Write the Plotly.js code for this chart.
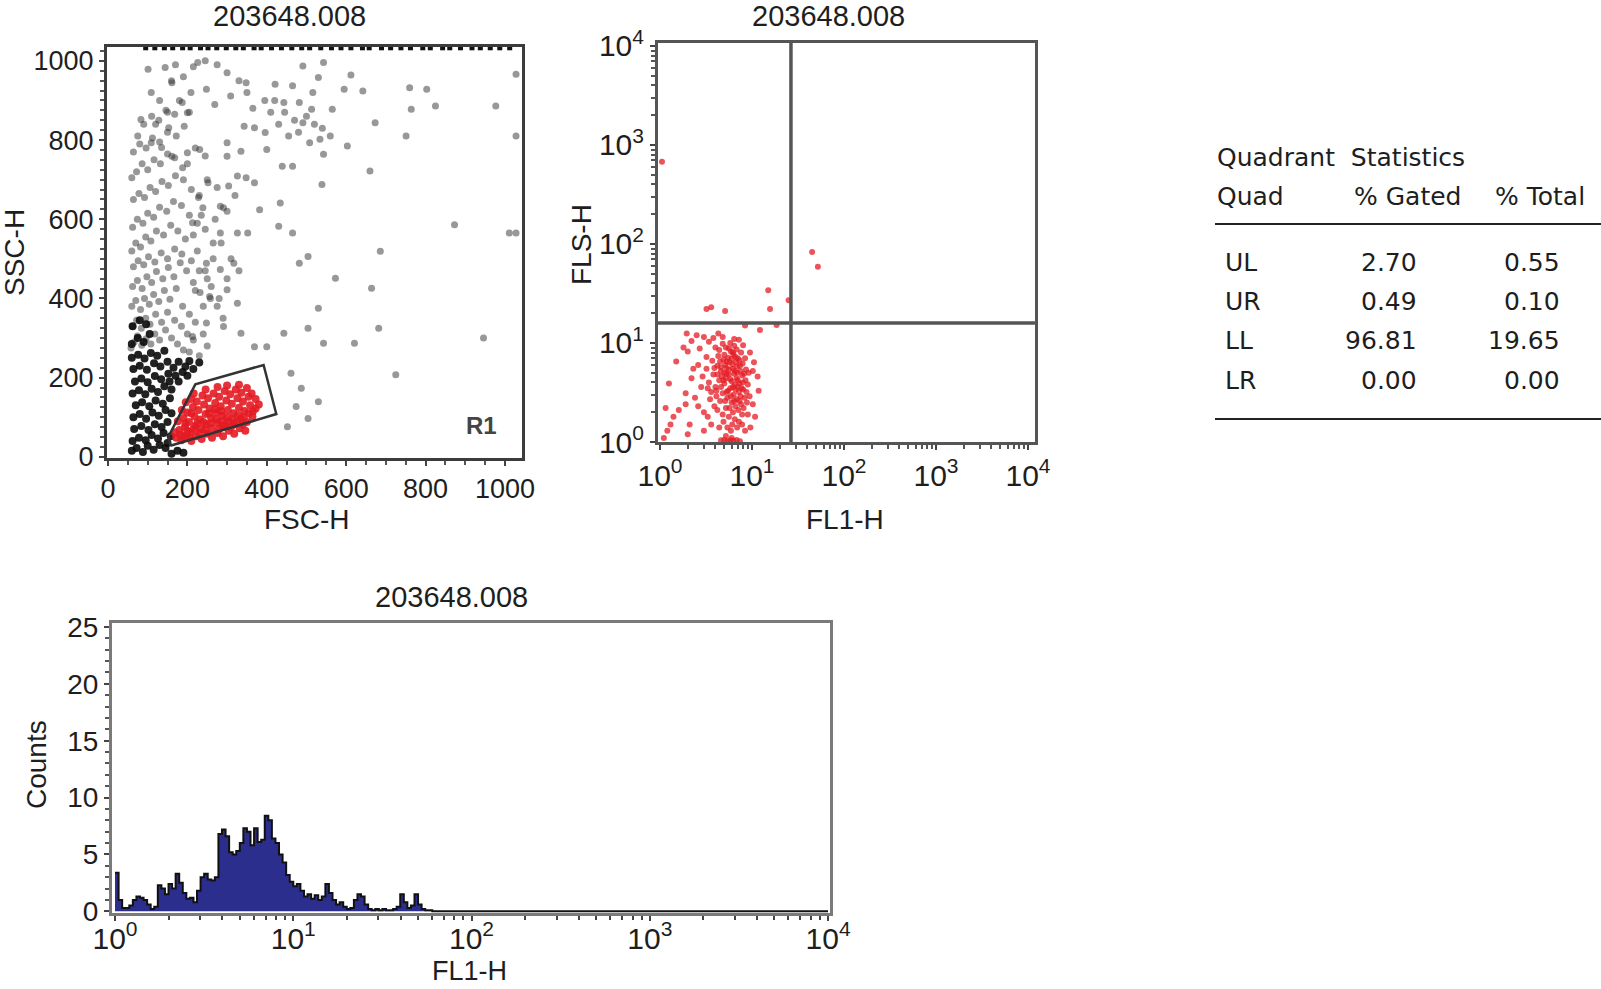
<!DOCTYPE html>
<html>
<head>
<meta charset="utf-8">
<script src="https://cdn.plot.ly/plotly-3.0.1.min.js"></script>
<style>
  html, body { margin: 0; padding: 0; background: #fff; }
  #plot { width: 1601px; height: 989px; }
</style>
</head>
<body>
<div id="plot"></div>
<script>
(function (document, window) {

    const sampleName = '203648.008';

    // FSC-H / SSC-H dot plot, events
    // dark core next to the FSC threshold
    const coreEvents = [
        [60,15],[72,22],[88,12],[100,28],[115,18],[130,30],[145,22],[62,40],[78,48],[95,42],
        [110,55],[126,46],[140,60],[158,52],[66,70],[84,78],[102,68],[118,82],[135,75],[150,88],
        [64,100],[80,108],[96,96],[112,112],[128,104],[145,118],[160,110],[70,130],[86,138],[104,128],
        [120,142],[138,134],[156,148],[62,160],[78,168],[94,158],[110,172],[126,164],[142,178],[160,170],
        [178,190],[68,190],[84,198],[100,188],[118,204],[134,196],[152,210],[170,205],[188,214],[64,222],
        [80,230],[98,220],[116,236],[132,228],[150,240],[60,250],[76,258],[92,248],[108,262],[124,255],
        [142,268],[160,8],[175,15],[190,10],[150,35],[165,225],[195,228],[205,242],[178,240],[200,205],
        [215,222],[230,238],[155,190],[60,285],[75,300],[90,290],[105,310],[62,330],[80,345],[96,335]
    ];

    // the rest of the events outside R1
    const otherEvents = [
        [58,275],[66,290],[74,305],[85,282],[96,298],[108,285],[118,310],[130,295],[145,320],[160,300],
        [175,285],[190,270],[205,265],[62,330],[72,345],[84,325],[95,350],[106,335],[120,360],[135,340],
        [150,365],[168,345],[185,330],[200,310],[215,295],[230,255],[60,380],[70,395],[82,372],[92,400],
        [104,385],[115,410],[128,392],[142,420],[156,398],[172,425],[188,380],[205,360],[220,340],[240,310],
        [250,280],[62,430],[74,445],[86,425],[98,455],[110,440],[122,468],[138,450],[152,478],[166,455],
        [182,490],[198,470],[215,440],[232,415],[258,400],[275,380],[290,350],[64,480],[76,495],[90,485],
        [102,505],[118,492],[134,515],[150,500],[168,525],[186,512],[210,495],[230,470],[250,450],
        [60,520],[70,540],[82,530],[95,555],[108,545],[122,570],[140,560],[158,585],[176,570],[195,550],
        [62,580],[74,600],[88,590],[100,615],[115,605],[130,630],[148,620],[165,645],[185,635],[205,610],
        [225,590],[245,575],[64,650],[78,665],[92,655],[106,680],[120,670],[136,695],[152,685],[170,710],
        [190,700],[210,675],[228,655],[60,705],[72,720],[86,740],[100,725],[116,750],[132,740],[150,765],
        [168,755],[188,730],[64,770],[80,790],[96,780],[112,805],[130,795],[150,820],[172,810],[90,840],
        [110,860],[128,850],[146,875],[168,865],
        [220,420],[240,380],[260,430],[280,400],[300,450],[225,520],[245,470],[265,500],[285,540],[310,500],
        [330,470],[215,560],[235,610],[270,600],[300,620],[320,660],[230,660],[250,700],[275,680],[200,740],
        [220,780],[245,760],[180,900],[205,870],[160,950],[130,900],[150,870],[120,840],
        [420,900],[445,870],[470,850],[455,810],[500,860],[520,840],[480,820],[540,830],[430,840],[410,870],
        [395,900],[365,880],[350,920],[330,950],[300,970],[275,990],[245,1000],[215,985],[190,960],[170,990],
        [977,886],[825,886],[803,928],[760,932],[764,878],[751,810],[673,844],[660,722],[612,964],[595,928],
        [642,924],[603,785],[565,878],[539,688],[873,586],[1011,565],[686,519],[573,451],[664,426],[530,375],
        [682,325],[504,325],[443,312],[543,287],[621,287],[946,300],[725,207],[461,211],[530,139],[474,127],
        [504,97],[452,76],[487,173],[400,278],[369,278],[482,489],[504,506],[430,582],[465,565],[434,641],
        [382,624],[352,565],[283,565],[348,705],[326,709],[369,692],[439,734],[465,734],[491,844],[508,793],
        [534,802],[560,810],[543,764],[513,878],[482,895],[516,920],[530,958],[491,987],[543,996],[465,937],
        [421,941],[443,895],[396,819],[369,831],[400,776],[335,772],[300,759],[343,835],[348,945],[309,911],
        [269,890],[248,928],[209,920],[187,895],[200,869],[161,945],[144,983],[109,920],[101,979],[226,996],
        [83,852],[75,810],[153,831],[192,835],[109,793],[135,781],[161,759],[200,768],[231,776],[300,793],
        [304,684],[252,692],[239,629],[213,591],[283,633],[291,629],[326,565],[265,540],[248,489],[283,473],
        [317,489],[300,422],[326,388],[291,329],[335,312],[248,338],[213,304],[256,405],
        [1028,966],[1028,810],[1028,565]
    ];

    // events piled at the top of the SSC scale
    const topEvents = [95,118,142,163,188,207,233,252,274,298,322,341,368,386,412,437,463,488,508,
        536,563,587,612,641,658,689,712,738,762,793,812,843,861,888,917,938,963,987,1012];
    const topSSC = 1033;

    // events inside the R1 gate
    const gatedEvents = [
        [172,48],[185,42],[198,55],[210,40],[222,52],[236,45],[250,58],[262,48],[276,60],[290,52],
        [304,66],[318,58],[332,72],[346,66],[180,68],[194,75],[208,62],[220,78],[234,70],[248,82],
        [262,72],[276,86],[290,76],[304,90],[318,82],[334,96],[350,88],[364,102],[176,90],[190,98],
        [204,88],[218,102],[232,94],[246,108],[260,98],[274,112],[288,104],[302,118],[316,110],[330,124],
        [344,116],[358,130],[372,122],[186,118],[200,112],[214,126],[228,118],[242,132],[256,122],[270,136],
        [284,128],[298,142],[312,134],[326,148],[340,140],[354,152],[196,138],[210,146],[224,140],[238,155],
        [252,148],[266,160],[280,152],[294,166],[308,158],[322,170],[336,162],[350,174],[216,160],[246,170],
        [276,176],[300,180],[330,182],[362,160],[372,146],[380,132],[200,65],[215,70],[230,60],[245,68],
        [258,85],[272,95],[286,90],[300,100],[314,95],[328,105],[342,100],[240,88],[255,110],[270,120],
        [285,115],[225,85],[210,110],[195,84],[182,56],[168,62],[190,50],[205,48],[280,70],[295,80],
        [310,75],[325,88],[340,82],[355,110],[365,115]
    ];

    const gateR1 = [[157,28],[153,52],[220,183],[392,232],[424,108],[157,28]];
    const gateLabel = 'R1';

    // FL1-H / FLS-H of the gated events
    const flEvents = [
        [4.6,5.2],[5.1,6.0],[5.6,4.8],[6.2,5.5],[6.8,4.4],[7.4,5.9],[5.0,3.9],[5.8,3.5],[6.5,3.8],[7.2,3.2],
        [4.8,3.1],[5.4,2.8],[6.0,2.5],[6.8,2.7],[7.6,2.4],[4.4,4.2],[5.2,4.4],[6.0,4.1],[6.7,6.4],[7.8,4.7],
        [5.5,7.1],[6.3,7.6],[4.9,6.8],[5.9,8.2],[7.0,7.0],[4.2,5.9],[4.0,3.6],[4.5,2.6],[5.2,2.2],[6.2,2.0],
        [7.1,2.1],[8.0,3.4],[8.3,2.8],[7.9,6.2],[8.5,4.2],[3.8,4.8],[3.6,3.2],[4.3,7.4],[5.3,5.6],[6.4,4.9],
        [5.7,6.4],[6.9,5.0],[4.7,4.6],[5.5,3.3],[6.3,3.0],[7.3,3.9],[6.0,6.9],[5.0,5.0],[6.6,3.4],[7.5,2.9],
        [4.1,2.9],[3.9,2.3],[4.8,1.9],[5.6,1.8],[6.5,1.7],[7.8,1.9],[8.8,2.5],[9.0,3.8],[8.6,5.4],[3.4,4.0],
        [3.2,5.5],[4.4,8.5],[5.2,9.0],[6.8,8.6],[7.6,8.0],[5.8,10.0],[4.9,1.6],[6.1,1.5],[5.4,1.4],[7.2,1.6],
        [4.2,4.8],[4.6,3.6],[5.3,3.2],[5.9,2.9],[6.6,2.3],[7.0,4.2],[7.7,3.5],[5.6,5.4],[6.1,6.1],[6.9,5.8],
        [5.0,7.6],[5.6,8.8],[6.4,9.4],[4.5,6.5],[3.9,5.6],[3.5,2.7],[4.2,2.1],[5.1,2.6],[5.7,2.2],[6.4,2.6],
        [7.3,2.6],[8.1,2.2],[8.7,3.2],[8.2,4.9],[7.5,5.2],[6.5,5.2],[5.8,4.3],[4.9,4.2],[4.1,3.3],[5.3,4.9],
        [6.2,3.6],[7.0,3.6],[7.9,4.0],[6.6,7.2],[7.3,6.7],[5.3,6.5],[4.6,5.7],[3.7,6.6],[4.0,9.0],[4.8,9.8],
        [6.2,8.0],[8.4,7.0],[9.2,5.0],[9.4,2.9],[3.3,3.5],[2.9,4.6],[2.6,2.3],[3.3,1.8],[4.4,1.4],[5.9,1.3],
        [6.9,1.4],[7.8,1.5],[9.0,1.9],[1.5,6.5],[1.8,9.0],[2.2,10.5],[1.4,1.8],[1.9,2.4],[2.3,5.5],[10.2,5.2],
        [5.0,1.05],[5.4,1.02],[5.8,1.04],[6.3,1.03],[6.8,1.05],[4.6,1.04],[7.4,1.02],[6.0,1.1],[5.2,1.15],
        [1.1,1.1],[1.3,1.5],[1.15,2.2],[1.25,3.9],[1.6,2.1],[1.9,3.1],[2.1,1.5],[2.2,4.4],[2.4,2.8],[2.6,6.0],
        [2.8,3.6],[3.0,1.3],[3.0,2.0],[2.7,8.8],[3.2,7.2],[3.4,10.3],[3.0,11.5],[2.5,12.0],[3.8,11.2],[4.3,12.5],
        [4.8,11.5],[6.4,11.0],[7.2,10.8],[8.0,9.5],[9.5,8.0],[10.5,6.4],[11.5,4.6],[10.2,2.4],[11.8,3.3],[10.8,1.8],
        [9.6,1.4],[8.4,1.3],[3.6,1.5],[2.0,1.2],[1.2,1.3],[8.4,15.0],[12.2,13.5],[1.95,12.5],[2.0,8.2],[18.5,15.2],
        [3.2,22],[3.6,23],[5.1,21],[15,34],[15.7,22],[25,27],[45,83],[52,59],[1.05,676]
    ];

    const quadFL1 = 26.5;
    const quadFLS = 15.9;

    // FL1-H histogram, counts per log bin starting at 10^0
    const histStepLog = 0.02;
    const histCounts = [
        3.4,1.0,0.3,0.3,0.5,1.0,1.3,1.2,1.0,0.6,
        0.2,0.4,2.3,2.0,1.5,2.4,2.0,3.3,2.5,1.6,
        1.1,1.2,0.8,1.8,3.0,3.3,2.8,2.7,3.0,6.8,
        7.2,6.6,5.2,5.0,5.3,6.0,7.3,7.0,5.8,7.3,
        6.1,6.3,8.4,8.0,6.4,6.0,5.0,4.3,3.2,2.6,
        2.2,2.4,1.8,1.3,1.5,1.1,1.4,1.0,1.3,2.4,
        1.6,1.0,0.6,0.8,0.4,0.2,0.3,1.0,1.5,1.3,
        0.6,0.2,0.1,0.2,0.1,0.2,0.1,0.1,0.2,0.4,
        1.5,0.8,0.3,0.5,1.5,0.6,0.2,0.1,0.1,0.0
    ];

    // quadrant statistics
    const quadNames = ['UL', 'UR', 'LL', 'LR'];
    const pctGated = ['2.70', '0.49', '96.81', '0.00'];
    const pctTotal = ['0.55', '0.10', '19.65', '0.00'];

    const logTicks = [1, 10, 100, 1000, 10000];
    const logTickText = ['10<sup>0</sup>', '10<sup>1</sup>', '10<sup>2</sup>', '10<sup>3</sup>', '10<sup>4</sup>'];

    const W = 1601, H = 989;
    function px(x) { return x / W; }
    function py(y) { return 1 - y / H; }

    const red = '#e41b23';
    const sans = 'Liberation Sans';

    document.addEventListener("DOMContentLoaded", function () {

        var histX = [], histY = [];
        histCounts.forEach(function (c, i) {
            histX.push(Math.pow(10, i * histStepLog));
            histY.push(c);
        });
        histX.push(Math.pow(10, histCounts.length * histStepLog));
        histY.push(0);
        histX.push(10000);
        histY.push(0);

        var traces = [
            {
                x: otherEvents.map(p => p[0]), y: otherEvents.map(p => p[1]),
                type: 'scatter', mode: 'markers', xaxis: 'x', yaxis: 'y',
                marker: { size: 7, color: 'rgba(50,50,50,0.5)' }, hoverinfo: 'skip'
            },
            {
                x: coreEvents.map(p => p[0]), y: coreEvents.map(p => p[1]),
                type: 'scatter', mode: 'markers', xaxis: 'x', yaxis: 'y',
                marker: { size: 8, color: 'rgba(10,10,10,0.9)' }, hoverinfo: 'skip'
            },
            {
                x: topEvents, y: topEvents.map(() => topSSC),
                type: 'scatter', mode: 'markers', xaxis: 'x', yaxis: 'y',
                marker: { size: 5, symbol: 'square', color: '#111' }, hoverinfo: 'skip'
            },
            {
                x: gatedEvents.map(p => p[0]), y: gatedEvents.map(p => p[1]),
                type: 'scatter', mode: 'markers', xaxis: 'x', yaxis: 'y',
                marker: { size: 8, color: red, opacity: 0.9 }, hoverinfo: 'skip'
            },
            {
                x: gateR1.map(p => p[0]), y: gateR1.map(p => p[1]),
                type: 'scatter', mode: 'lines', xaxis: 'x', yaxis: 'y',
                line: { color: '#333', width: 2.5 }, hoverinfo: 'skip'
            },
            {
                x: flEvents.map(p => p[0]), y: flEvents.map(p => p[1]),
                type: 'scatter', mode: 'markers', xaxis: 'x2', yaxis: 'y2',
                marker: { size: 6, color: red, opacity: 0.75 }, hoverinfo: 'skip'
            },
            {
                x: [quadFL1, quadFL1], y: [1, 10700],
                type: 'scatter', mode: 'lines', xaxis: 'x2', yaxis: 'y2',
                line: { color: '#555', width: 3.5 }, hoverinfo: 'skip'
            },
            {
                x: [0.95, 11900], y: [quadFLS, quadFLS],
                type: 'scatter', mode: 'lines', xaxis: 'x2', yaxis: 'y2',
                line: { color: '#555', width: 3.5 }, hoverinfo: 'skip'
            },
            {
                x: histX, y: histY,
                type: 'scatter', mode: 'lines', xaxis: 'x3', yaxis: 'y3',
                line: { color: '#111', width: 2, shape: 'hv' },
                fill: 'tozeroy', fillcolor: '#2c2e8d', hoverinfo: 'skip'
            }
        ];

        function frame(extra) {
            return Object.assign({
                showline: true, mirror: true, linewidth: 3, linecolor: '#3c3c3c',
                showgrid: false, zeroline: false, ticks: 'outside', ticklen: 5,
                tickwidth: 2, tickcolor: '#444', fixedrange: true
            }, extra);
        }

        var layout = {
            width: W, height: H,
            margin: { l: 0, r: 0, t: 0, b: 0 },
            paper_bgcolor: '#fff', plot_bgcolor: '#fff',
            showlegend: false,
            font: { family: sans, color: '#1e1e1e' },
            xaxis: frame({
                domain: [px(107), px(522)], range: [-2.5, 1043], anchor: 'y',
                tickvals: [0, 200, 400, 600, 800, 1000],
                tickfont: { family: sans, size: 27 },
                minor: { dtick: 50, ticks: 'outside', ticklen: 4, tickwidth: 2, tickcolor: '#555' }
            }),
            yaxis: frame({
                domain: [py(458), py(47)], range: [-3, 1035], anchor: 'x',
                tickvals: [0, 200, 400, 600, 800, 1000],
                tickfont: { family: sans, size: 27 },
                minor: { dtick: 25, ticks: 'outside', ticklen: 4, tickwidth: 2, tickcolor: '#555' }
            }),
            xaxis2: frame({
                type: 'log', domain: [px(658), px(1035)], range: [-0.022, 4.076], anchor: 'y2',
                linecolor: '#555', tickvals: logTicks, ticktext: logTickText,
                tickfont: { family: sans, size: 30 },
                minor: { dtick: 'D1', ticks: 'outside', ticklen: 4, tickwidth: 2, tickcolor: '#555' }
            }),
            yaxis2: frame({
                type: 'log', domain: [py(442), py(43)], range: [0, 4.03], anchor: 'x2',
                linecolor: '#555', tickvals: logTicks, ticktext: logTickText,
                tickfont: { family: sans, size: 30 },
                minor: { dtick: 'D1', ticks: 'outside', ticklen: 4, tickwidth: 2, tickcolor: '#555' }
            }),
            xaxis3: frame({
                type: 'log', domain: [px(112), px(830)], range: [-0.017, 4.011], anchor: 'y3',
                linecolor: '#7a7a7a', tickvals: logTicks, ticktext: logTickText, ticklabelstandoff: -8,
                tickfont: { family: sans, size: 30 },
                minor: { dtick: 'D1', ticks: 'outside', ticklen: 4, tickwidth: 2, tickcolor: '#444' }
            }),
            yaxis3: frame({
                domain: [py(913), py(623)], range: [-0.15, 25.35], anchor: 'x3',
                linecolor: '#7a7a7a', tickvals: [0, 5, 10, 15, 20, 25],
                tickfont: { family: sans, size: 28 },
                minor: { dtick: 1, ticks: 'outside', ticklen: 4, tickwidth: 2, tickcolor: '#555' }
            }),
            annotations: [],
            shapes: [
                { type: 'line', xref: 'paper', yref: 'paper', x0: px(1215), x1: px(1601), y0: py(224), y1: py(224), line: { color: '#222', width: 2 } },
                { type: 'line', xref: 'paper', yref: 'paper', x0: px(1215), x1: px(1601), y0: py(419), y1: py(419), line: { color: '#222', width: 2 } }
            ]
        };

        function note(text, x, y, opts) {
            layout.annotations.push(Object.assign({
                text: text, xref: 'paper', yref: 'paper', x: px(x), y: py(y),
                xanchor: 'center', yanchor: 'middle', showarrow: false,
                font: { family: sans, size: 28, color: '#1e1e1e' }
            }, opts || {}));
        }

        // panel titles
        var titleFont = { family: sans, size: 29, color: '#1e1e1e' };
        note(sampleName, 289, 16, { font: titleFont });
        note(sampleName, 828, 16, { font: titleFont });
        note(sampleName, 451, 597, { font: titleFont });

        // axis titles
        note('FSC-H', 307, 519);
        note('SSC-H', 14, 253, { textangle: -90 });
        note('FL1-H', 845, 519);
        note('FLS-H', 582, 245, { textangle: -90 });
        note('Counts', 36, 765, { textangle: -90 });
        note('FL1-H', 469, 971, { font: { family: sans, size: 27, color: '#1e1e1e' } });

        // gate label
        layout.annotations.push({
            text: '<b>' + gateLabel + '</b>', xref: 'x', yref: 'y', x: 940, y: 78,
            showarrow: false, font: { family: sans, size: 24, color: '#444' }
        });

        // quadrant statistics table
        var tfont = { family: 'DejaVu Sans', size: 25, color: '#1e1e1e' };
        note('Quadrant  Statistics', 1215, 158, { xanchor: 'left', font: tfont });
        note('Quad', 1215, 197, { xanchor: 'left', font: tfont });
        note('% Gated', 1463, 197, { xanchor: 'right', font: tfont });
        note('% Total', 1493, 197, { xanchor: 'left', font: tfont });
        var rowY = [262, 301, 340, 380];
        quadNames.forEach(function (q, i) {
            note(q, 1223, rowY[i], { xanchor: 'left', font: tfont });
            note(pctGated[i], 1419, rowY[i], { xanchor: 'right', font: tfont });
            note(pctTotal[i], 1562, rowY[i], { xanchor: 'right', font: tfont });
        });

        Plotly.newPlot('plot', traces, layout, { staticPlot: true });
    });

})(document, window);
</script>
</body>
</html>
